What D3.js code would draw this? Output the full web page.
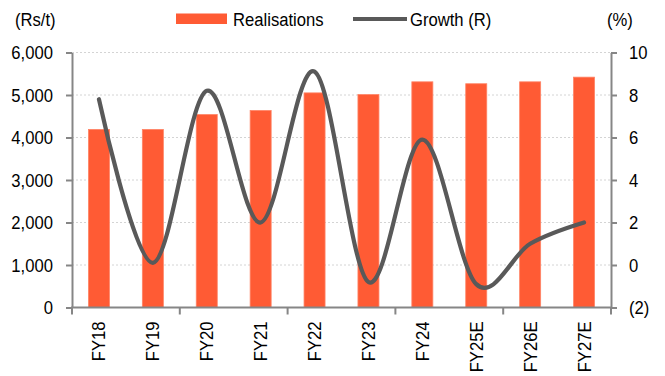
<!DOCTYPE html>
<html>
<head>
<meta charset="utf-8">
<script src="https://cdn.jsdelivr.net/npm/d3@7"></script>
<style>
  html, body { margin: 0; padding: 0; background: #fff; }
  svg { display: block; }
  text { font-family: "Liberation Sans", Arial, sans-serif; fill: #000; }
</style>
</head>
<body>
<div id="chart"></div>
<script>
// Cement realisations (Rs/t, bars) and YoY growth (%, line on right axis)
const categories = ["FY18", "FY19", "FY20", "FY21", "FY22", "FY23", "FY24", "FY25E", "FY26E", "FY27E"];
const realisations = [4190, 4190, 4540, 4635, 5050, 5010, 5310, 5265, 5310, 5420];
const growth = [7.8, 0.1, 8.2, 2.0, 9.1, -0.8, 5.9, -0.9, 1.0, 2.0];
const leftTicks = [0, 1000, 2000, 3000, 4000, 5000, 6000];
const rightTicks = [-2, 0, 2, 4, 6, 8, 10];
const seriesNames = ["Realisations", "Growth (R)"];
const unitLabels = ["(Rs/t)", "(%)"];

const W = 665, H = 376;
const m = { left: 72, right: 54, top: 52.5, bottom: 68.5 };
const FS = 18.5;      // font size
const SX = 0.9;       // horizontal glyph compression

const barColor = "#FF5B34";
const lineColor = "#595959";
const axisColor = "#868686";
const gridColor = "#d4d4d4";

const svg = d3.select("#chart").append("svg")
  .attr("width", W).attr("height", H);

const x = d3.scaleBand().domain(categories)
  .range([m.left, W - m.right]).paddingInner(0.61).paddingOuter(0.305);
const yL = d3.scaleLinear().domain([0, 6000]).range([H - m.bottom, m.top]);
const yR = d3.scaleLinear().domain([-2, 10]).range([H - m.bottom, m.top]);

// condensed text helper: places text at (px,py) with compressed glyph width
function ctext(g, str, px, py, anchor) {
  return g.append("text")
    .attr("transform", `translate(${px},${py}) scale(${SX},1)`)
    .attr("text-anchor", anchor || "start")
    .style("font-size", FS + "px")
    .text(str);
}

// gridlines
svg.append("g")
  .selectAll("line")
  .data(leftTicks.filter(d => d > 0))
  .join("line")
  .attr("x1", m.left).attr("x2", W - m.right)
  .attr("y1", d => yL(d)).attr("y2", d => yL(d))
  .attr("stroke", gridColor).attr("stroke-width", 1)
  .attr("stroke-dasharray", "2,2");

// bars
svg.append("g")
  .selectAll("rect")
  .data(categories)
  .join("rect")
  .attr("x", d => x(d))
  .attr("width", x.bandwidth())
  .attr("y", (d, i) => yL(realisations[i]))
  .attr("height", (d, i) => yL(0) - yL(realisations[i]))
  .attr("fill", barColor)
  .attr("stroke", "#FF8466").attr("stroke-width", 0.8);

// growth line
const line = d3.line()
  .x((d, i) => x(categories[i]) + x.bandwidth() / 2)
  .y(d => yR(d))
  .curve(d3.curveCardinal.tension(0));
svg.append("path")
  .datum(growth)
  .attr("d", line)
  .attr("fill", "none")
  .attr("stroke", lineColor)
  .attr("stroke-width", 4.2)
  .attr("stroke-linecap", "round");

// left axis
const gL = svg.append("g").attr("transform", `translate(${m.left},0)`)
  .call(d3.axisLeft(yL).tickValues(leftTicks).tickFormat(d3.format(",")).tickSize(6).tickSizeOuter(0));
gL.selectAll("text")
  .attr("x", null)
  .attr("transform", `translate(-19,0) scale(${SX},1)`)
  .attr("dy", "0.35em")
  .style("font-size", FS + "px")
  .attr("font-family", null);

// right axis
const gR = svg.append("g").attr("transform", `translate(${W - m.right},0)`)
  .call(d3.axisRight(yR).tickValues(rightTicks)
    .tickFormat(d => d < 0 ? `(${-d})` : `${d}`).tickSize(6).tickSizeOuter(0));
gR.selectAll("text")
  .attr("x", null)
  .attr("transform", `translate(18,0) scale(${SX},1)`)
  .attr("dy", "0.35em")
  .style("font-size", FS + "px")
  .attr("font-family", null);

// bottom axis: labels at band centres, ticks at every second band boundary
const gB = svg.append("g").attr("transform", `translate(0,${H - m.bottom})`)
  .call(d3.axisBottom(x).tickSize(0).tickSizeOuter(0));
gB.selectAll("text")
  .attr("y", null).attr("dy", "0.35em")
  .attr("x", -14 / SX)
  .attr("text-anchor", "end")
  .attr("transform", `rotate(-90) scale(${SX},1)`)
  .style("font-size", FS + "px")
  .attr("font-family", null);
const boundaries = d3.range(0, categories.length + 1, 2)
  .map(i => x.range()[0] + i * x.step());
gB.selectAll("line.btick")
  .data(boundaries)
  .join("line")
  .attr("class", "btick")
  .attr("x1", d => d).attr("x2", d => d)
  .attr("y1", 0).attr("y2", 7);

[gL, gR, gB].forEach(g => {
  g.selectAll(".domain").attr("stroke", axisColor).attr("stroke-width", 2);
  g.selectAll("line").attr("stroke", axisColor).attr("stroke-width", 2);
  g.selectAll("text").attr("fill", "#000");
});
gB.select(".domain").attr("d", `M${m.left - 1},0H${W - m.right + 1}`);

// unit labels
ctext(svg, unitLabels[0], 15, 25.5);
ctext(svg, unitLabels[1], 607, 25.5);

// legend
const leg = svg.append("g");
leg.append("rect").attr("x", 176).attr("y", 13.5).attr("width", 51).attr("height", 10.5)
  .attr("fill", barColor);
ctext(leg, seriesNames[0], 233, 25.5);
leg.append("line").attr("x1", 353).attr("x2", 407).attr("y1", 19).attr("y2", 19)
  .attr("stroke", lineColor).attr("stroke-width", 4);
ctext(leg, seriesNames[1], 410, 25.5);
</script>
</body>
</html>
